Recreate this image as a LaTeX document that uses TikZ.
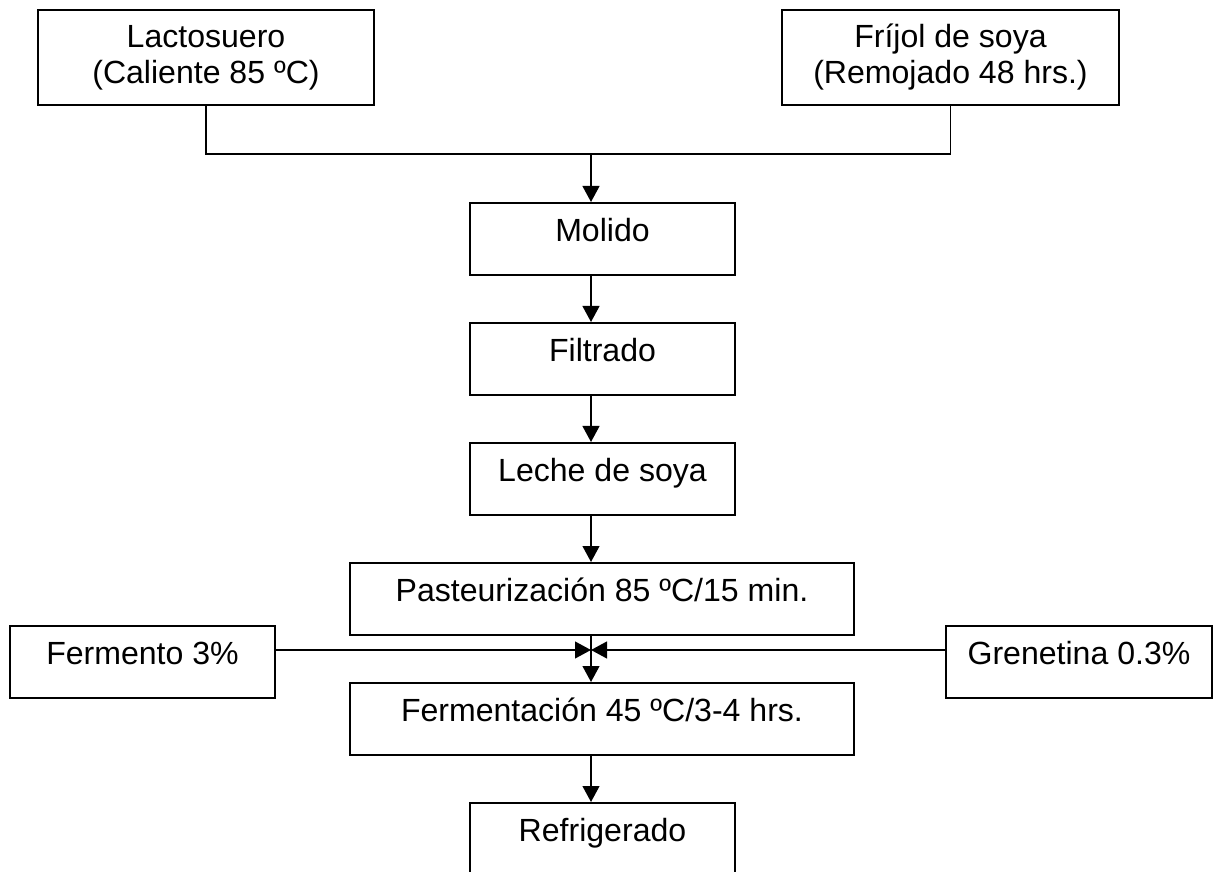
\documentclass[tikz,border=0pt]{standalone}
\usepackage{fontspec}
\setmainfont{Liberation Sans}
\usetikzlibrary{arrows.meta}
\begin{document}
\begin{tikzpicture}[x=0.025cm, y=-0.025cm,
        every node/.style={draw, line width=1.4pt, font=\fontsize{22.8}{25.6}\selectfont, align=center, inner sep=0pt},
        paso/.style={minimum width=6.625cm, minimum height=1.8cm, text height=0.7em, text depth=0.4em},
        ancho/.style={paso, minimum width=12.6cm},
        entrada/.style={minimum width=8.4cm, minimum height=2.375cm},
        arr/.style={-{Triangle[length=0.4cm,width=0.42cm]}, line width=1.3pt}]
    \clip (0,0) rectangle (1213,872);

    \node[entrada] (lacto) at (206,57.5) {Lactosuero\\(Caliente 85 ºC)};
    \node[entrada] (frijol) at (950.5,57.5) {Fríjol de soya\\(Remojado 48 hrs.)};
    \node[paso] (molido) at (602.5,239) {Molido};
    \node[paso] (filtrado) at (602.5,359) {Filtrado};
    \node[paso] (leche) at (602.5,479) {Leche de soya};
    \node[ancho] (pasteur) at (602,599) {Pasteurización 85 ºC/15 min.};
    \node[paso] (fermento) at (142.5,662) {Fermento 3\%};
    \node[paso] (grenetina) at (1079,662) {Grenetina 0.3\%};
    \node[ancho] (ferment) at (602,719) {Fermentación 45 ºC/3-4 hrs.};
    \node[paso] (refrig) at (602.5,839) {Refrigerado};

    \coordinate (join) at (591,154);
    \coordinate (mix) at (591,650);

    \draw[line width=1.3pt] (lacto.south) |- (join) -| (frijol.south);
    \draw[arr] (join) -- (molido.north -| join);
    \draw[arr] (molido.south -| join) -- (filtrado.north -| join);
    \draw[arr] (filtrado.south -| join) -- (leche.north -| join);
    \draw[arr] (leche.south -| join) -- (pasteur.north -| join);
    \draw[arr] (fermento.east |- mix) -- (mix);
    \draw[arr] (grenetina.west |- mix) -- (mix);
    \draw[arr] (pasteur.south -| mix) -- (ferment.north -| mix);
    \draw[arr] (ferment.south -| mix) -- (refrig.north -| mix);
\end{tikzpicture}
\end{document}
